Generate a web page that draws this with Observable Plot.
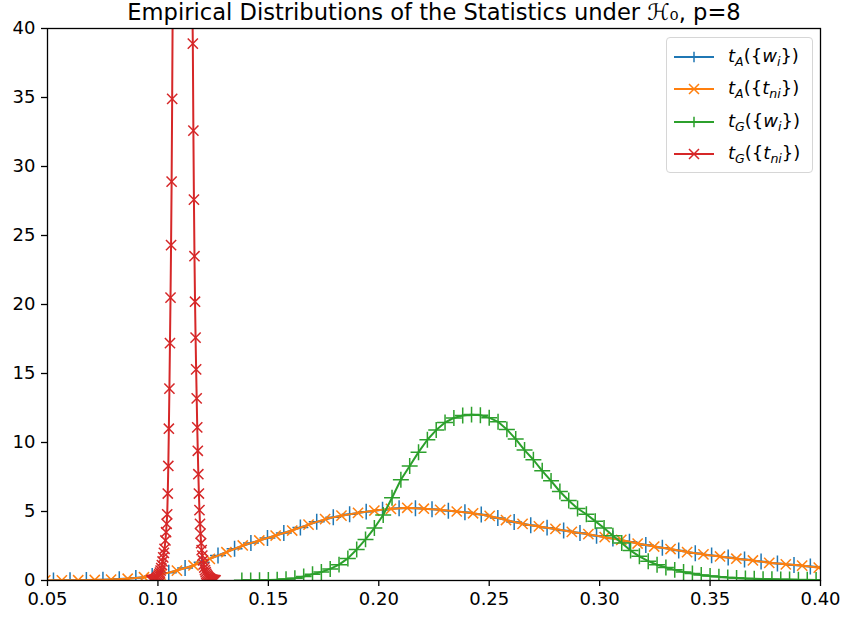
<!DOCTYPE html>
<html>
<head>
<meta charset="utf-8">
<script src="https://cdn.jsdelivr.net/npm/d3@7"></script>
<script src="https://cdn.jsdelivr.net/npm/@observablehq/plot@0.6"></script>
<style>
  body { margin: 0; background: #fff; }
  #wrap { position: relative; width: 846px; height: 619px; overflow: hidden; }
  #legend { position: absolute; left: 666px; top: 37px; width: 147px; height: 136px; box-sizing: border-box;
    border: 1px solid #d6d6d6; border-radius: 4px; background: rgba(255,255,255,0.8);
    font-family: "DejaVu Sans", sans-serif; font-size: 18px; color: #000; }
  .row { position: absolute; left: 0; width: 145px; height: 32px; }
  .row svg { position: absolute; left: 0; top: 0; }
  .lab { position: absolute; left: 61px; top: 4px; white-space: nowrap; line-height: 22px; }
  .it { font-style: italic; }
  .sb { font-style: italic; font-size: 12.6px; position: relative; top: 4px; }
</style>
</head>
<body>
<div id="wrap"><div id="legend"></div></div>
<script>
const titleText = "Empirical Distributions of the Statistics under ℋ₀, p=8";
const xTicks = [0.05, 0.10, 0.15, 0.20, 0.25, 0.30, 0.35, 0.40];
const yTicks = [0, 5, 10, 15, 20, 25, 30, 35, 40];

// t_A({w_i}) — blue
const tAwX = [0.0527,0.0602,0.0676,0.0751,0.0825,0.0900,0.0974,0.1049,0.1123,0.1198,
  0.1272,0.1347,0.1421,0.1496,0.1570,0.1645,0.1719,0.1794,0.1868,0.1943,
  0.2017,0.2092,0.2166,0.2241,0.2315,0.2390,0.2464,0.2539,0.2613,0.2688,
  0.2762,0.2837,0.2911,0.2986,0.3060,0.3135,0.3209,0.3284,0.3358,0.3433,
  0.3507,0.3582,0.3656,0.3731,0.3805,0.3880,0.3954,0.4029];
const tAwY = [0.01,0.015,0.03,0.055,0.10,0.18,0.33,0.57,0.90,1.33,
  1.81,2.30,2.72,3.08,3.44,3.84,4.25,4.58,4.80,4.99,
  5.13,5.23,5.24,5.16,5.06,4.94,4.78,4.53,4.24,4.01,
  3.83,3.63,3.44,3.25,3.04,2.81,2.57,2.37,2.17,1.98,
  1.82,1.66,1.52,1.37,1.23,1.13,1.01,0.88];

// t_A({t_ni}) — orange
const tAtX = [0.0490,0.0565,0.0639,0.0714,0.0788,0.0863,0.0937,0.1012,0.1086,0.1161,
  0.1235,0.1310,0.1384,0.1459,0.1533,0.1608,0.1682,0.1757,0.1831,0.1906,
  0.1980,0.2055,0.2129,0.2204,0.2278,0.2353,0.2427,0.2502,0.2576,0.2651,
  0.2725,0.2800,0.2874,0.2949,0.3023,0.3098,0.3172,0.3247,0.3321,0.3396,
  0.3470,0.3545,0.3619,0.3694,0.3768,0.3843,0.3917,0.3992];
const tAtY = [0.01,0.01,0.02,0.04,0.07,0.13,0.24,0.42,0.72,1.09,
  1.57,2.05,2.54,2.90,3.26,3.62,4.05,4.45,4.70,4.90,
  5.07,5.19,5.27,5.20,5.12,5.00,4.87,4.68,4.38,4.10,
  3.92,3.74,3.52,3.36,3.14,2.94,2.68,2.46,2.28,2.06,
  1.89,1.74,1.58,1.45,1.28,1.17,1.08,0.93];

// t_G({w_i}) — green
const tGwX = [0.138,0.142,0.146,0.150,0.154,0.158,0.162,0.166,0.170,0.174,
  0.178,0.182,0.186,0.190,0.194,0.198,0.202,0.206,0.210,0.214,
  0.218,0.222,0.226,0.230,0.234,0.238,0.242,0.246,0.250,0.254,
  0.258,0.262,0.266,0.270,0.274,0.278,0.282,0.286,0.290,0.294,
  0.298,0.302,0.306,0.310,0.314,0.318,0.322,0.326,0.330,0.334,
  0.338,0.342,0.346,0.350,0.354,0.358,0.362,0.366,0.370,0.374,
  0.378,0.382,0.386,0.390,0.394,0.398,0.402];
const tGwY = [0.01,0.01,0.02,0.03,0.06,0.10,0.16,0.29,0.45,0.62,
  0.84,1.15,1.60,2.25,2.98,3.80,4.75,6.00,7.30,8.30,
  9.30,10.20,10.90,11.45,11.78,11.95,12.02,11.98,11.80,11.50,
  10.95,10.25,9.45,8.75,7.95,7.22,6.45,5.80,5.22,4.80,
  4.30,3.80,3.25,2.72,2.17,1.75,1.40,1.14,0.94,0.77,
  0.62,0.50,0.40,0.33,0.28,0.22,0.18,0.15,0.12,0.10,
  0.09,0.08,0.07,0.06,0.05,0.04,0.03];

// t_G({t_ni}) — red (peak above 40 is off-chart; estimated)
const tGtX = [0.0970,0.0973,0.0976,0.0979,0.0982,0.0985,0.0988,0.0991,0.0994,0.0997,
  0.1000,0.1003,0.1006,0.1009,0.1012,0.1015,0.1018,0.1021,0.1024,0.1027,
  0.1030,0.1034,0.1037,0.10395,0.1042,0.10445,0.1047,0.10495,0.1052,0.10545,
  0.1057,0.10595,0.1062,0.10645,0.1067,0.1075,0.1085,0.1095,0.1105,0.1115,
  0.1125,0.1135,0.1145,0.1152,0.1155,0.1158,0.11605,0.1163,0.11655,0.1168,
  0.11705,0.1173,0.11755,0.1178,0.11805,0.1183,0.11855,0.1188,0.11905,0.1193,
  0.11955,0.1198,0.1201,0.1204,0.1207,0.1210,0.1213,0.1216,0.1219,0.1222,
  0.1225,0.1228,0.1231,0.1234,0.1237,0.1240,0.1243,0.1246,0.1249,0.1252,
  0.1255,0.1258,0.1261];
const tGtY = [0.01,0.02,0.03,0.04,0.05,0.07,0.09,0.12,0.16,0.21,
  0.27,0.35,0.45,0.57,0.72,0.90,1.12,1.38,1.68,2.00,
  2.30,2.90,3.50,4.10,4.80,6.30,8.30,11.0,13.9,17.2,
  20.5,24.3,28.9,34.9,42,62,88,108,120,118,
  105,85,62,48,43,38.9,32.6,27.6,23.5,20.2,
  17.6,15.3,13.2,11.1,9.4,7.7,6.3,5.1,4.1,3.4,
  2.7,2.2,1.8,1.45,1.17,0.94,0.75,0.60,0.48,0.38,
  0.30,0.24,0.19,0.15,0.12,0.09,0.07,0.05,0.04,0.03,
  0.02,0.02,0.01];

const seriesNames = ["tA_w", "tA_t", "tG_w", "tG_t"];
const seriesLabels = [
  '<span class="it">t</span><span class="sb">A</span>({<span class="it">w</span><span class="sb">i</span>})',
  '<span class="it">t</span><span class="sb">A</span>({<span class="it">t</span><span class="sb">ni</span>})',
  '<span class="it">t</span><span class="sb">G</span>({<span class="it">w</span><span class="sb">i</span>})',
  '<span class="it">t</span><span class="sb">G</span>({<span class="it">t</span><span class="sb">ni</span>})'
];
const seriesColors = ["#1f77b4", "#ff7f0e", "#2ca02c", "#d62728"];
const seriesSymbols = ["plus", "times", "plus", "times"];
const seriesXs = [tAwX, tAtX, tGwX, tGtX];
const seriesYs = [tAwY, tAtY, tGwY, tGtY];

const tables = seriesXs.map((xs, i) => xs.map((x, j) => ({x, y: seriesYs[i][j]})));

const dataMarks = [];
tables.forEach((tbl, i) => {
  dataMarks.push(Plot.line(tbl, {x: "x", y: "y", stroke: seriesColors[i], strokeWidth: 2, clip: true}));
  dataMarks.push(Plot.dot(tbl, {x: "x", y: "y", symbol: seriesSymbols[i], stroke: seriesColors[i],
    r: seriesSymbols[i] === "plus" ? 5.2 : 4.7, strokeWidth: 1.5, clip: true}));
});

const chart = Plot.plot({
  width: 846,
  height: 619,
  marginLeft: 47,
  marginRight: 26,
  marginTop: 28,
  marginBottom: 39,
  style: {fontFamily: "DejaVu Sans, sans-serif", fontSize: "18px", background: "white", color: "black", overflow: "visible"},
  x: {domain: [0.05, 0.40], label: null},
  y: {domain: [0, 40], label: null},
  marks: [
    ...dataMarks,
    Plot.frame({stroke: "black", strokeWidth: 1.3}),
    Plot.axisX({ticks: xTicks, tickFormat: d => d.toFixed(2), tickSize: 6, tickPadding: 6, strokeWidth: 1.3, label: null}),
    Plot.axisY({ticks: yTicks, tickFormat: d => String(d), tickSize: 6, tickPadding: 6, strokeWidth: 1.3, label: null}),
    Plot.text([titleText], {text: d => d, frameAnchor: "top", lineAnchor: "bottom", dy: -8.5, fontSize: 22.6, fill: "black"})
  ]
});

const wrap = document.getElementById("wrap");
wrap.insertBefore(chart, wrap.firstChild);

// Legend
const legend = document.getElementById("legend");
const rowCenters = [19, 51.3, 83.7, 116.3];
seriesNames.forEach((name, i) => {
  const row = document.createElement("div");
  row.className = "row";
  row.style.top = (rowCenters[i] - 16) + "px";
  const c = seriesColors[i];
  const cx = 27, cy = 16;
  const mk = seriesSymbols[i] === "plus"
    ? `<path d="M${cx-5.2},${cy}H${cx+5.2}M${cx},${cy-5.2}V${cy+5.2}" stroke="${c}" stroke-width="1.5" fill="none"/>`
    : `<path d="M${cx-5},${cy-5}L${cx+5},${cy+5}M${cx-5},${cy+5}L${cx+5},${cy-5}" stroke="${c}" stroke-width="1.5" fill="none"/>`;
  row.innerHTML = `<svg width="60" height="32"><line x1="7" y1="${cy}" x2="47" y2="${cy}" stroke="${c}" stroke-width="2"/>${mk}</svg><span class="lab">${seriesLabels[i]}</span>`;
  legend.appendChild(row);
});
</script>
</body>
</html>
